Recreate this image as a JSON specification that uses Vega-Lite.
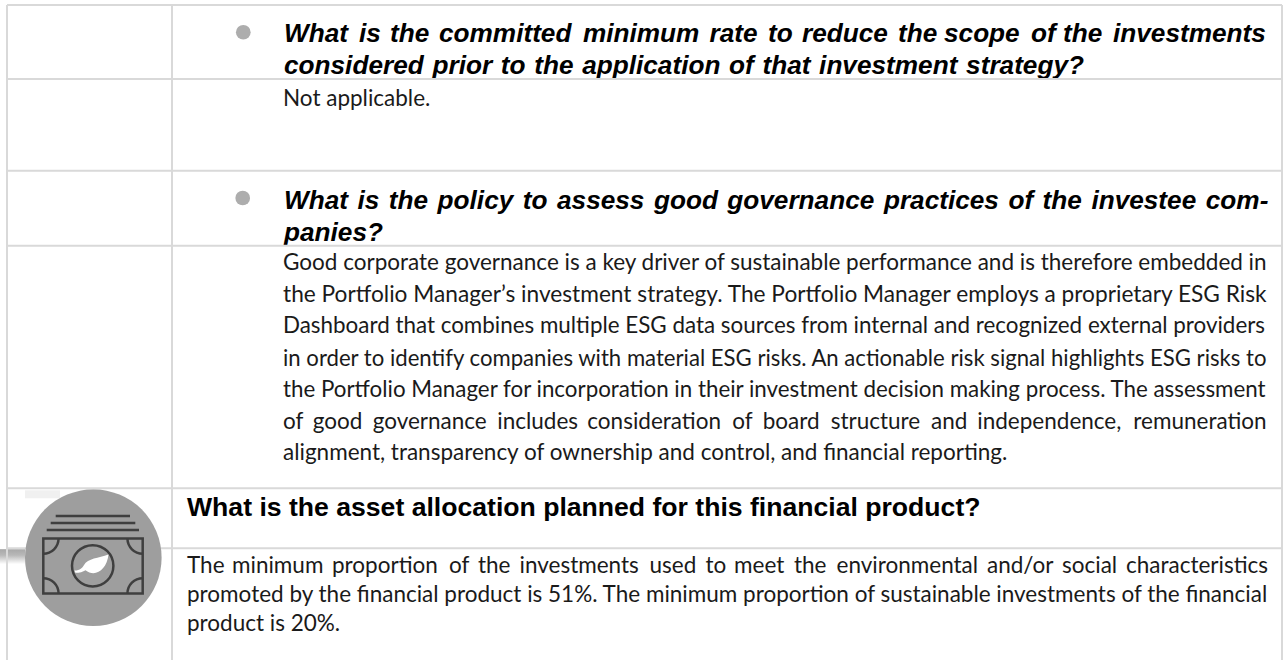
{"$schema":"https://vega.github.io/schema/vega-lite/v6.json","autosize":{"type":"fit","contains":"padding"},"width":1287,"height":661,"padding":0,"background":"white","config":{"view":{"stroke":null}},
"encoding":{"x":{"field":"col","type":"quantitative","scale":{"domain":[0,1287],"nice":false,"zero":false},"axis":null},"y":{"field":"row","type":"quantitative","scale":{"domain":[0,661],"nice":false,"zero":false,"reverse":true},"axis":null}},
"layer":[
{"data":{"values":[{"col":25,"col2":60,"row":491,"row2":499}]},"mark":{"type":"rect","fill":"#f0f0f0"},"encoding":{"x2":{"field":"col2"},"y2":{"field":"row2"}}},
{"data":{"values":[{"col":0,"col2":25,"row":550,"row2":565}]},"mark":{"type":"rect","fill":{"x1":0,"y1":0,"x2":0,"y2":1,"gradient":"linear","stops":[{"offset":0,"color":"#a8a8a8"},{"offset":0.4,"color":"#b8b8b8"},{"offset":1,"color":"#ffffff"}]}},"encoding":{"x2":{"field":"col2"},"y2":{"field":"row2"}}},
{"data":{"values":[{"col":7,"col2":1282,"row":549}]},"mark":{"type":"rule","stroke":"#d9d9d9","strokeWidth":2},"encoding":{"x2":{"field":"col2"}}},
{"data":{"values":[{"col":7,"row":5,"row2":661},{"col":172,"row":5,"row2":661},{"col":1282,"row":5,"row2":661}]},"mark":{"type":"rule","stroke":"#d9d9d9","strokeWidth":2},"encoding":{"y2":{"field":"row2"}}},
{"data":{"values":[{"col":93.3,"row":558.5}]},"mark":{"type":"point","shape":"circle","filled":true,"fill":"#9e9e9e","stroke":null,"opacity":1,"size":18660}},
{"data":{"values":[{"col":55.7,"col2":130,"row":516.7},{"col":50.7,"col2":135.3,"row":523.7},{"col":46.7,"col2":139,"row":530.7}]},"mark":{"type":"rule","stroke":"#3f3f3f","strokeWidth":2.5},"encoding":{"x2":{"field":"col2"}}},
{"data":{"values":[{"col":43.3,"col2":142.7,"row":539.3,"row2":594.3}]},"mark":{"type":"rect","fill":null,"stroke":"#3f3f3f","strokeWidth":2.5},"encoding":{"x2":{"field":"col2"},"y2":{"field":"row2"}}},
{"data":{"values":[{"col":92.7,"row":566.7}]},"mark":{"type":"point","shape":"circle","fill":null,"stroke":"#3f3f3f","strokeWidth":2.5,"opacity":1,"size":1714}},
{"data":{"values":[{"col":43.3,"row":539.3,"a0":1.5708,"a1":3.1416},{"col":142.7,"row":539.3,"a0":3.1416,"a1":4.7124},{"col":43.3,"row":594.3,"a0":0,"a1":1.5708},{"col":142.7,"row":594.3,"a0":4.7124,"a1":6.2832}]},"mark":{"type":"arc","innerRadius":14,"outerRadius":16.5,"fill":"#3f3f3f"},"encoding":{"theta":{"field":"a0","type":"quantitative","scale":null,"stack":null},"theta2":{"field":"a1"}}},
{"data":{"values":[{"col":91.5,"row":566}]},"mark":{"type":"point","filled":true,"fill":"white","stroke":null,"opacity":1,"size":1156,"shape":"M1,-0.62 C0.4,-0.4 -0.2,-0.4 -0.45,0 C-0.55,0.15 -0.65,0.3 -1,0.32 L-0.95,0.45 C-0.7,0.45 -0.5,0.4 -0.35,0.3 C0.2,0.75 0.9,0.3 1,-0.62 Z"}},
{"data":{"values":[{"col":243.3,"row":32.3},{"col":242.7,"row":198.3}]},"mark":{"type":"point","shape":"circle","filled":true,"fill":"#adadad","stroke":null,"opacity":1,"size":216}},
{"data":{"values":[{"col":284,"row":42,"t":"What"},{"col":359,"row":42,"t":"is"},{"col":390,"row":42,"t":"the"},{"col":439,"row":42,"t":"committed"},{"col":583,"row":42,"t":"minimum"},{"col":709.5,"row":42,"t":"rate"},{"col":768,"row":42,"t":"to"},{"col":802,"row":42,"t":"reduce"},{"col":898,"row":42,"t":"the"},{"col":944,"row":42,"t":"scope"},{"col":1031,"row":42,"t":"of"},{"col":1063,"row":42,"t":"the"},{"col":1113,"row":42,"t":"investments"},
{"col":284,"row":74,"t":"considered"},{"col":432.5,"row":74,"t":"prior"},{"col":500.8,"row":74,"t":"to"},{"col":534.2,"row":74,"t":"the"},{"col":582.2,"row":74,"t":"application"},{"col":729.1,"row":74,"t":"of"},{"col":762.5,"row":74,"t":"that"},{"col":819.1,"row":74,"t":"investment"},{"col":966.1,"row":74,"t":"strategy?"},
{"col":284,"row":209,"t":"What"},{"col":357.5,"row":209,"t":"is"},{"col":388.8,"row":209,"t":"the"},{"col":437.6,"row":209,"t":"policy"},{"col":522.8,"row":209,"t":"to"},{"col":557,"row":209,"t":"assess"},{"col":653.9,"row":209,"t":"good"},{"col":727.3,"row":209,"t":"governance"},{"col":883.9,"row":209,"t":"practices"},{"col":1008.4,"row":209,"t":"of"},{"col":1042.6,"row":209,"t":"the"},{"col":1091.4,"row":209,"t":"investee"},{"col":1205.8,"row":209,"t":"com-"},{"col":284,"row":241,"t":"panies?"}]},"mark":{"type":"text","font":"Liberation Sans","fontStyle":"italic","fontWeight":"bold","fontSize":26.2,"align":"left","baseline":"alphabetic","fill":"#000000"},"encoding":{"text":{"field":"t"}}},
{"data":{"values":[{"col":187,"row":516.5,"t":"What is the asset allocation planned for this financial product?"}]},"mark":{"type":"text","font":"Liberation Sans","fontWeight":"bold","fontSize":26.6,"align":"left","baseline":"alphabetic","fill":"#000000"},"encoding":{"text":{"field":"t"}}},
{"data":{"values":[{"col":283,"row":106,"t":"Not applicable."},{"col":283,"row":270,"t":"Good corporate governance is a key driver of sustainable performance and is therefore embedded in"},{"col":283,"row":461,"t":"alignment, transparency of ownership and control, and financial reporting."},{"col":187,"row":603,"t":"promoted by the financial product is 51%. The minimum proportion of sustainable investments of the financial"},{"col":187,"row":632,"t":"product is 20%."},
{"col":283,"row":430,"t":"of"},{"col":312.7,"row":430,"t":"good"},{"col":372.7,"row":430,"t":"governance"},{"col":497.3,"row":430,"t":"includes"},{"col":587.3,"row":430,"t":"consideration"},{"col":732.3,"row":430,"t":"of"},{"col":762.7,"row":430,"t":"board"},{"col":830.7,"row":430,"t":"structure"},{"col":931,"row":430,"t":"and"},{"col":977.3,"row":430,"t":"independence,"},{"col":1133.3,"row":430,"t":"remuneration"},
{"col":187,"row":574,"t":"The"},{"col":232,"row":574,"t":"minimum"},{"col":332,"row":574,"t":"proportion"},{"col":449,"row":574,"t":"of"},{"col":478,"row":574,"t":"the"},{"col":519.5,"row":574,"t":"investments"},{"col":649.5,"row":574,"t":"used"},{"col":705.5,"row":574,"t":"to"},{"col":734,"row":574,"t":"meet"},{"col":794,"row":574,"t":"the"},{"col":836.5,"row":574,"t":"environmental"},{"col":987,"row":574,"t":"and/or"},{"col":1062,"row":574,"t":"social"},{"col":1126,"row":574,"t":"characteristics"}]},"mark":{"type":"text","font":"Lato","fontSize":22.5,"align":"left","baseline":"alphabetic","fill":"#1a1a1a"},"encoding":{"text":{"field":"t"}}},
{"data":{"values":[{"col":283,"row":302,"t":"the Portfolio Manager’s investment strategy. The Portfolio Manager employs a proprietary ESG Risk"}]},"mark":{"type":"text","font":"Lato","fontSize":22.7,"align":"left","baseline":"alphabetic","fill":"#1a1a1a"},"encoding":{"text":{"field":"t"}}},
{"data":{"values":[{"col":283,"row":334,"t":"Dashboard that combines multiple ESG data sources from internal and recognized external providers"}]},"mark":{"type":"text","font":"Lato","fontSize":22.4,"align":"left","baseline":"alphabetic","fill":"#1a1a1a"},"encoding":{"text":{"field":"t"}}},
{"data":{"values":[{"col":283,"row":367,"t":"in order to identify companies with material ESG risks. An actionable risk signal highlights ESG risks to"}]},"mark":{"type":"text","font":"Lato","fontSize":22.15,"align":"left","baseline":"alphabetic","fill":"#1a1a1a"},"encoding":{"text":{"field":"t"}}},
{"data":{"values":[{"col":283,"row":398,"t":"the Portfolio Manager for incorporation in their investment decision making process. The assessment"}]},"mark":{"type":"text","font":"Lato","fontSize":22.35,"align":"left","baseline":"alphabetic","fill":"#1a1a1a"},"encoding":{"text":{"field":"t"}}},
{"data":{"values":[{"col":7,"col2":1282,"row":5},{"col":7,"col2":1282,"row":79},{"col":7,"col2":1282,"row":171},{"col":7,"col2":1282,"row":246},{"col":7,"col2":1282,"row":489}]},"mark":{"type":"rule","stroke":"#d9d9d9","strokeWidth":2},"encoding":{"x2":{"field":"col2"}}}
]}
